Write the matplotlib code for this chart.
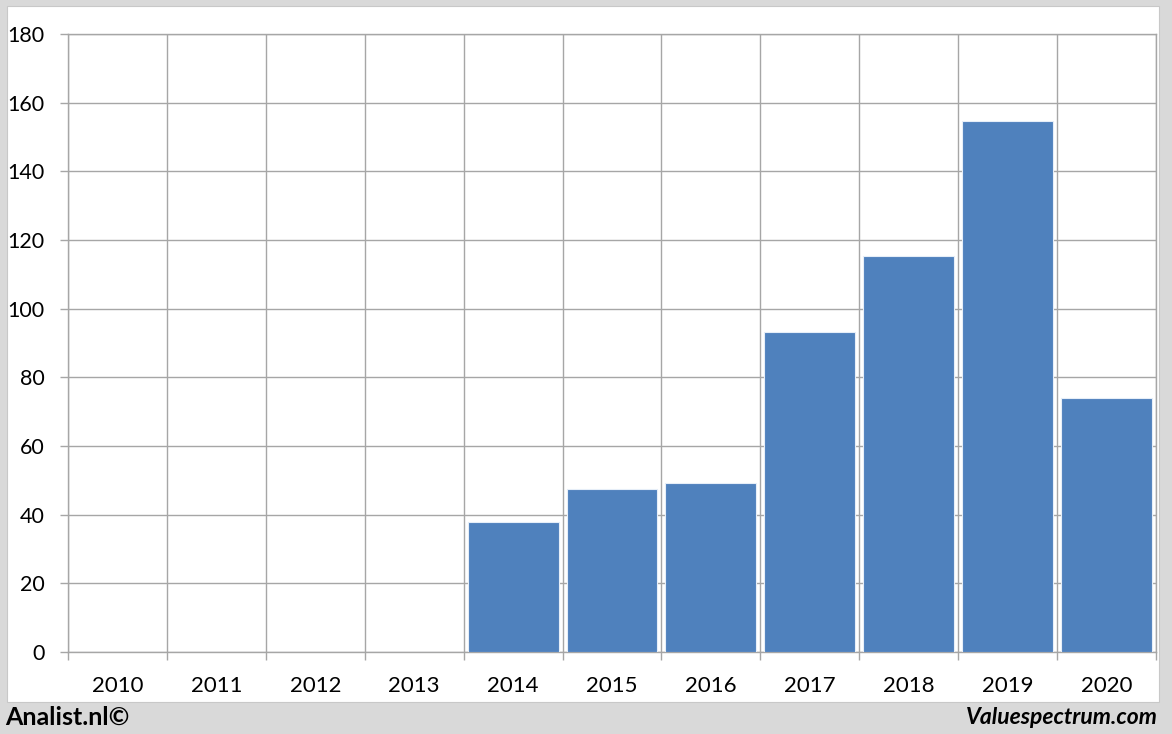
import matplotlib
matplotlib.use("Agg")
import matplotlib.pyplot as plt
from matplotlib.patches import Rectangle
import numpy as np

years = ["2010", "2011", "2012", "2013", "2014", "2015", "2016", "2017", "2018", "2019", "2020"]
values = [0, 0, 0, 0, 37.8, 47.6, 49.3, 93.2, 115.3, 154.8, 74.0]
yticks = [0, 20, 40, 60, 80, 100, 120, 140, 160, 180]

W, H = 1172, 734
fig = plt.figure(figsize=(W / 100, H / 100), dpi=100)
fig.patch.set_facecolor("#d9d9d9")
# white panel
fig.patches.append(Rectangle((7 / W, (H - 702) / H), (1159 - 7) / W, (702 - 6) / H,
                             transform=fig.transFigure, facecolor="white",
                             edgecolor="#c8c8c8", linewidth=0.8, zorder=-10))

plt.rcParams["font.family"] = ["Lato", "DejaVu Sans"]

ax = fig.add_axes([68 / W, (H - 652) / H, (1156 - 68) / W, (652 - 34) / H])
ax.set_zorder(5)
ax.set_facecolor("white")
x = np.arange(len(years))
ax.bar(x, values, width=0.92, color="#4f81bd", edgecolor="#e6eef8", linewidth=0.8, zorder=3)

ax.set_xlim(-0.5, len(years) - 0.5)
ax.set_ylim(0, 180)
ax.set_yticks(yticks)
ax.set_yticklabels([str(v) for v in yticks])
ax.set_xticks(x)
ax.set_xticklabels(years)
ax.set_xticks(np.arange(len(years) + 1) - 0.5, minor=True)

grid_c = "#a6a6a6"
ax.grid(False)
for v in yticks:
    ax.axhline(v, color=grid_c, linewidth=1.0, zorder=1)
for b in np.arange(len(years) + 1) - 0.5:
    ax.axvline(b, color=grid_c, linewidth=1.0, zorder=1)

for s in ax.spines.values():
    s.set_color(grid_c)
    s.set_linewidth(1.0)

ax.tick_params(axis="y", which="major", length=5.8, width=1.0, color=grid_c,
               pad=11, labelsize=15.5, labelcolor="black")
ax.tick_params(axis="x", which="major", length=0, pad=17, labelsize=16, labelcolor="black")
ax.tick_params(axis="x", which="minor", length=5.8, width=1.0, color=grid_c)

fig.text(5 / W, 1 - 717 / H, "Analist.nl©", ha="left", va="center",
         fontsize=18, fontweight="bold", color="black")
fig.text(1158 / W, 1 - 717 / H, "Valuespectrum.com", ha="right", va="center",
         fontsize=16.5, fontweight="bold", fontstyle="italic", color="black")

fig.savefig("out.png", dpi=100, facecolor=fig.get_facecolor())
